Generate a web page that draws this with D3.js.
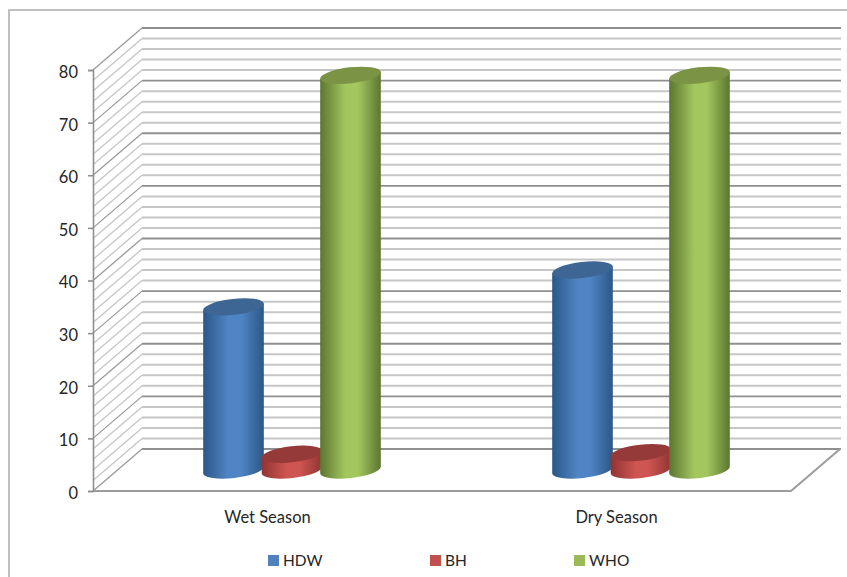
<!DOCTYPE html>
<html>
<head>
<meta charset="utf-8">
<script src="https://cdn.jsdelivr.net/npm/d3@7"></script>
<style>
  html, body { margin: 0; padding: 0; background: #fff; }
  svg { display: block; }
  text { font-family: Lato, "Open Sans", sans-serif; fill: #262626; }
</style>
</head>
<body>
<svg id="chart" width="847" height="577"></svg>
<script>
const categories = ["Wet Season", "Dry Season"];
const seriesNames = ["HDW", "BH", "WHO"];
const hdwValues = [31, 38];
const bhValues = [3, 3.3];
const whoValues = [75, 75];
const yTicks = [0, 10, 20, 30, 40, 50, 60, 70, 80];
const gridSteps = d3.range(0, 82, 2);

const palette = {
  HDW: { edge: "#2c5787", mid: "#5085c5", top: "#3d6694", key: "#4f81bd" },
  BH:  { edge: "#8f3533", mid: "#cf5552", top: "#953a38", key: "#c0504d" },
  WHO: { edge: "#5c7631", mid: "#a3c75e", top: "#7b9345", key: "#9bbb59" }
};

const svg = d3.select("#chart");

// Oblique projection of the chart box: front plane plus a depth offset
const plotLeft = 93, plotRight = 791, plotTop = 70, plotBottom = 491;
const depthX = 49, depthY = -42;

const x = d3.scaleBand().domain(categories).range([plotLeft, plotRight]);
const y = d3.scaleLinear().domain([0, 80]).range([plotBottom, plotTop]);
const offset = d3.scaleBand().domain(seriesNames).range([-87.75, 87.75]);

// Outer frame, open on the right and bottom
svg.append("path")
  .attr("d", "M9,577V10H847")
  .attr("fill", "none")
  .attr("stroke", "#bfbfbf")
  .attr("stroke-width", 2);

// Wall and side gridlines
const grid = svg.append("g").attr("fill", "none");
gridSteps.forEach(v => {
  const major = v % 10 === 0;
  const stroke = major ? "#8f8f8f" : "#c6c6c6";
  grid.append("line")
    .attr("x1", plotLeft + depthX).attr("x2", plotRight + depthX + 1)
    .attr("y1", y(v) + depthY).attr("y2", y(v) + depthY)
    .attr("stroke", stroke).attr("stroke-width", major ? 1.8 : 2);
  grid.append("line")
    .attr("x1", plotLeft).attr("x2", plotLeft + depthX)
    .attr("y1", y(v)).attr("y2", y(v) + depthY)
    .attr("stroke", major ? "#9a9a9a" : "#c6c6c6").attr("stroke-width", 1.3);
});

// Floor edges
svg.append("path")
  .attr("d", d3.line()([
    [plotLeft, y(0)], [plotRight, y(0)], [plotRight + depthX, y(0) + depthY]
  ]))
  .attr("fill", "none")
  .attr("stroke", "#9c9c9c")
  .attr("stroke-width", 2);

// Value axis
const yAxis = svg.append("g")
  .attr("transform", `translate(${plotLeft},0)`)
  .call(d3.axisLeft(y).tickValues(yTicks).tickSize(5).tickPadding(10));
yAxis.select(".domain").attr("stroke", "#8f8f8f").attr("stroke-width", 1.6);
yAxis.selectAll(".tick line").attr("stroke", "#8f8f8f").attr("stroke-width", 1.6);
yAxis.selectAll("text")
  .attr("font-size", 16.5)
  .attr("dy", "0.45em")
  .style("font-family", "Lato, sans-serif").style("fill", "#262626");

// Category axis
const xAxis = svg.append("g")
  .attr("transform", `translate(0,${plotBottom})`)
  .call(d3.axisBottom(x).tickSize(0).tickPadding(20));
xAxis.select(".domain").remove();
xAxis.selectAll("text").attr("font-size", 16.5).style("font-family", "Lato, sans-serif").style("fill", "#262626");

// Horizontal shading for the cylinder bodies
const defs = svg.append("defs");
seriesNames.forEach(name => {
  const c = palette[name];
  const g = defs.append("linearGradient").attr("id", "body-" + name);
  [[0, c.edge], [0.42, c.mid], [0.62, c.mid], [1, c.edge]].forEach(([o, col]) => {
    g.append("stop").attr("offset", o).attr("stop-color", col);
  });
});

// Cylinders, drawn left to right so each overlaps the previous one
const radius = 30.5, ryEllipse = 8, tilt = -6.5;
const dx = radius * Math.cos(tilt * Math.PI / 180);
const dy = radius * Math.sin(tilt * Math.PI / 180);
const valuesBySeries = { HDW: hdwValues, BH: bhValues, WHO: whoValues };

const marks = svg.append("g");
categories.forEach((cat, i) => {
  seriesNames.forEach(name => {
    const v = valuesBySeries[name][i];
    const cx = x(cat) + x.bandwidth() / 2 + depthX / 2 + offset(name) + offset.bandwidth() / 2;
    const yTop = y(v) + depthY / 2;
    const yBase = y(0) + depthY / 2;
    marks.append("path")
      .attr("d", `M${cx - dx},${yTop - dy}L${cx + dx},${yTop + dy}L${cx + dx},${yBase + dy}` +
                 `A${radius},${ryEllipse} ${tilt} 0 1 ${cx - dx},${yBase - dy}Z`)
      .attr("fill", `url(#body-${name})`);
    marks.append("ellipse")
      .attr("cx", cx).attr("cy", yTop)
      .attr("rx", radius).attr("ry", ryEllipse)
      .attr("transform", `rotate(${tilt} ${cx} ${yTop})`)
      .attr("fill", palette[name].top);
  });
});

// Legend
const legendX = d3.scaleOrdinal().domain(seriesNames).range([268, 430, 574]);
const legend = svg.append("g");
seriesNames.forEach(name => {
  legend.append("rect")
    .attr("x", legendX(name)).attr("y", 555)
    .attr("width", 11).attr("height", 11)
    .attr("fill", palette[name].key);
  legend.append("text")
    .attr("x", legendX(name) + 15)
    .attr("y", 566)
    .attr("font-size", 15.5)
    .text(name);
});
</script>
</body>
</html>
